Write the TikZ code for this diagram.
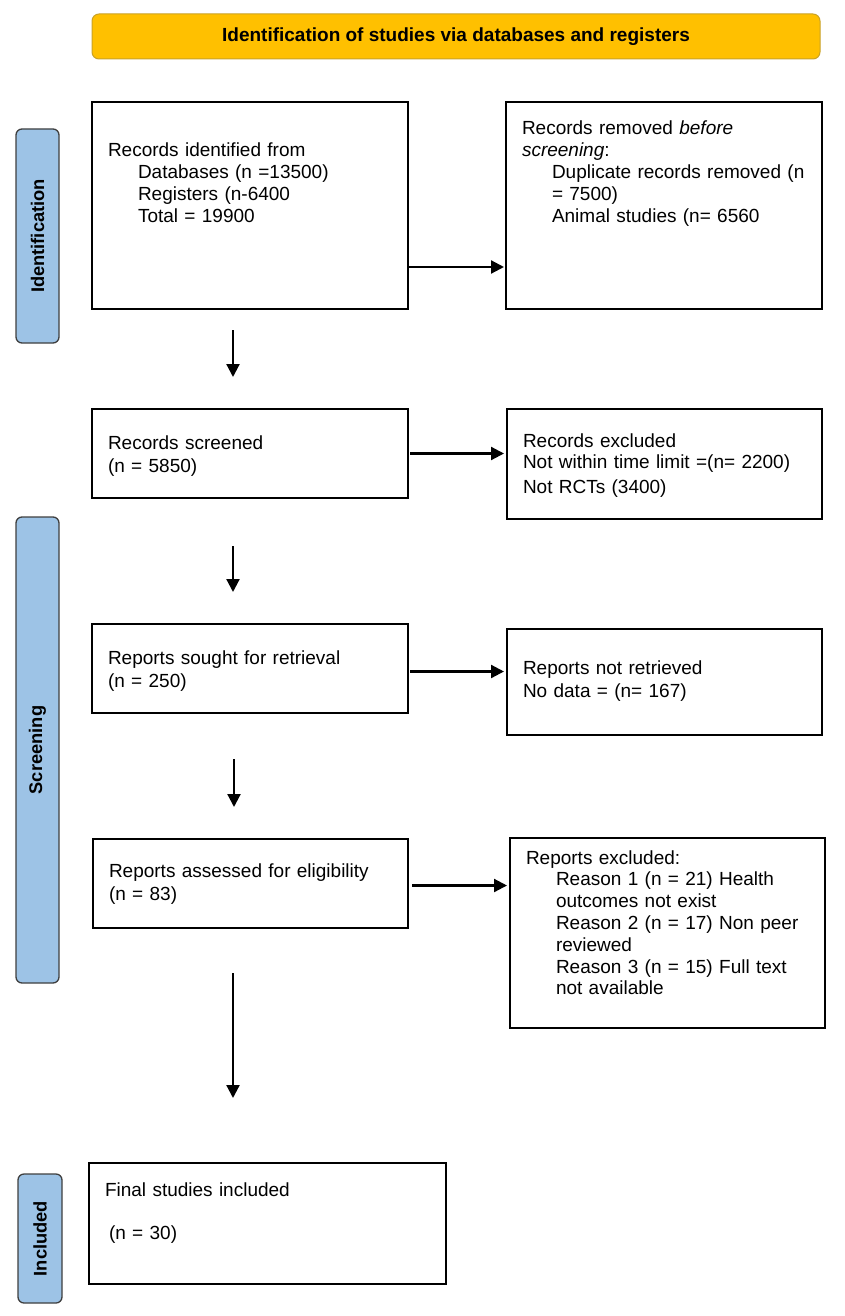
\documentclass[tikz,border=0pt]{standalone}
\usepackage{fontspec}
\setmainfont{Liberation Sans}
\usepackage{tikz}
\usetikzlibrary{positioning,arrows.meta}

\definecolor{headgold}{HTML}{FFC000}
\definecolor{headedge}{HTML}{C9A227}
\definecolor{phaseblue}{HTML}{9DC3E6}
\definecolor{phaseedge}{HTML}{3F3F3F}

\newcommand{\boxfont}{\fontsize{19}{21.8}\selectfont}

\begin{document}
\begin{tikzpicture}[x=1pt,y=-1pt,
  header/.style={rectangle,draw=headedge,line width=1pt,rounded corners=7pt,fill=headgold,minimum width=728pt,minimum height=45pt,font=\fontsize{19}{22}\selectfont\bfseries},
  phase/.style={rectangle,draw=phaseedge,line width=1.3pt,rounded corners=6pt,fill=phaseblue,rotate=90,inner sep=0pt,font=\fontsize{18.3}{22}\selectfont\bfseries},
  record/.style={rectangle,draw,line width=2.2pt,outer sep=0pt,anchor=north west,align=left,inner xsep=16pt,inner ysep=0pt,font=\boxfont},
  flow/.style={-{Triangle[length=13pt,width=13pt]},line width=2.2pt},
]
\useasboundingbox (0,0) rectangle (844,1316);

% Header
\node[header] (title) at (456,36.5) {Identification of studies via databases and registers};

% Phase labels
\node[phase,minimum width=214pt,minimum height=43pt] (idphase) at (37.5,236) {Identification};
\node[phase,minimum width=466pt,minimum height=43pt] (scphase) at (37.5,750) {Screening};
\node[phase,minimum width=129pt,minimum height=44pt] (inphase) at (40,1238.5) {Included};

% Main column
\node[record,text width=284pt,text height=55pt,text depth=152pt] (ident) at (92,102) {Records identified from\\
\hspace*{30pt}Databases (n =13500)\\
\hspace*{30pt}Registers (n-6400\\
\hspace*{30pt}Total = 19900};
\node[record,text width=284pt,text height=40pt,text depth=49pt] (screen) at (92,409) {Records screened\\[2pt]
(n = 5850)};
\node[record,text width=284pt,text height=40pt,text depth=49pt] (sought) at (92,624) {Reports sought for retrieval\\[2pt]
(n = 250)};
\node[record,text width=283pt,text height=38pt,text depth=51pt] (assess) at (93,839) {Reports assessed for eligibility\\[2pt]
(n = 83)};
\node[record,text width=325pt,text height=33pt,text depth=88pt] (incl) at (89,1163) {Final studies included\\[21.2pt]
\hspace*{4pt}(n = 30)};

% Exclusion column
\node[record,text width=284pt,text height=33pt,text depth=174pt] (removed) at (506,102) {Records removed \textit{before}\\
\textit{screening}:\\
\hspace*{30pt}Duplicate records removed (n\\
\hspace*{30pt}= 7500)\\
\hspace*{30pt}Animal studies (n= 6560};
\node[record,text width=283pt,text height=38pt,text depth=72pt] (excl) at (507,409) {Records excluded\\
Not within time limit =(n= 2200)\\[3pt]
Not RCTs (3400)};
\node[record,text width=283pt,text height=45pt,text depth=61pt] (notret) at (507,629) {Reports not retrieved\\[2pt]
No data = (n= 167)};
\node[record,text width=283pt,text height=26pt,text depth=164pt] (reasons) at (510,838) {Reports excluded:\\
\hspace*{30pt}Reason 1 (n = 21) Health\\
\hspace*{30pt}outcomes not exist\\
\hspace*{30pt}Reason 2 (n = 17) Non peer\\
\hspace*{30pt}reviewed\\
\hspace*{30pt}Reason 3 (n = 15) Full text\\
\hspace*{30pt}not available};

% Side arrows
\draw[flow,shorten <=1pt,shorten >=2pt] ([yshift=42pt]ident.south east) -- ([yshift=42pt]removed.south west);
\draw[flow,shorten <=2pt,shorten >=3pt] (screen.east) -- (screen.east -| excl.west);
\draw[flow,shorten <=2pt,shorten >=3pt] ([yshift=-3pt]sought.east) -- ([yshift=-3pt]sought.east -| notret.west);
\draw[flow,shorten <=4pt,shorten >=3pt] ([yshift=-2pt]assess.east) -- ([yshift=-2pt]assess.east -| reasons.west);

% Down arrows
\draw[flow] ([xshift=-17pt,yshift=-21pt]ident.south) -- ([xshift=-17pt,yshift=32pt]screen.north);
\draw[flow] ([xshift=-17pt,yshift=-48pt]screen.south) -- ([xshift=-17pt,yshift=32pt]sought.north);
\draw[flow] ([xshift=-16pt,yshift=-46pt]sought.south) -- ([xshift=-16.5pt,yshift=32pt]assess.north);
\draw[flow] ([xshift=-17.5pt,yshift=-45pt]assess.south) -- ([xshift=-34.5pt,yshift=65pt]incl.north);

\end{tikzpicture}
\end{document}
